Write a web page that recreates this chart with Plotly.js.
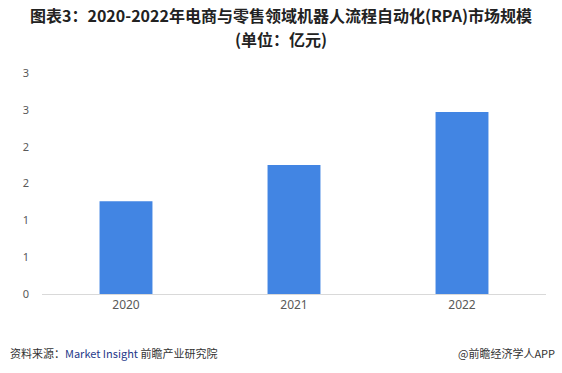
<!DOCTYPE html>
<html><head><meta charset="utf-8">
<script src="https://cdn.plot.ly/plotly-3.0.1.min.js"></script>
<style>html,body{margin:0;padding:0;background:#fff}#c{width:562px;height:373px}</style>
</head><body><div id="c"></div>
<script>
const categories = ["2020", "2021", "2022"];
const values = [1.26, 1.75, 2.47];
const yTickVals = [0, 0.5, 1, 1.5, 2, 2.5, 3];
const yTickText = ["0", "1", "1", "2", "2", "3", "3"];
const titleLine1 = "图表3：2020-2022年电商与零售领域机器人流程自动化(RPA)市场规模";
const titleLine2 = "(单位：亿元)";
const sourceText = "资料来源：<span style='color:#1f3a8a'>Market Insight</span> 前瞻产业研究院";
const brandText = "@前瞻经济学人APP";

const titleFont = {size: 16, color: "#222", family: "'Noto Sans CJK SC', sans-serif", weight: "bold"};
const trace = {
  type: "bar", x: categories, y: values,
  marker: {color: "#4285e3"}, hoverinfo: "none"
};
const layout = {
  width: 562, height: 373,
  margin: {l: 42, r: 16, t: 73, b: 79},
  paper_bgcolor: "#fff", plot_bgcolor: "#fff",
  bargap: 0.685, showlegend: false,
  font: {family: "'Noto Sans CJK SC', 'Noto Sans', sans-serif", color: "#595959"},
  title: {text: titleLine1, x: 0.5, xanchor: "center", yref: "container", y: 0.957, yanchor: "middle",
          font: titleFont},
  xaxis: {type: "category", showgrid: false, showline: true, linecolor: "#d9d9d9", linewidth: 1,
          ticks: "", tickfont: {size: 12, color: "#595959", family: "'Noto Sans', sans-serif"}, zeroline: false},
  yaxis: {range: [0, 3], tickvals: yTickVals, ticktext: yTickText, showgrid: false, showline: false,
          zeroline: false, ticks: "", ticklabelstandoff: 12,
          tickfont: {size: 11, color: "#595959", family: "'Noto Sans', sans-serif"}},
  annotations: [
    {text: titleLine2, xref: "paper", yref: "paper", x: 0.475, xanchor: "center", y: 1.155, yanchor: "middle",
     showarrow: false, font: titleFont},
    {text: sourceText, xref: "paper", yref: "paper", x: -0.068, xanchor: "left", y: -0.265, yanchor: "middle",
     showarrow: false, font: {size: 11, color: "#333"}},
    {text: brandText, xref: "paper", yref: "paper", x: 1.022, xanchor: "right", y: -0.265, yanchor: "middle",
     showarrow: false, font: {size: 11, color: "#333"}}
  ]
};
Plotly.newPlot("c", [trace], layout, {displayModeBar: false, staticPlot: true});
</script></body></html>
